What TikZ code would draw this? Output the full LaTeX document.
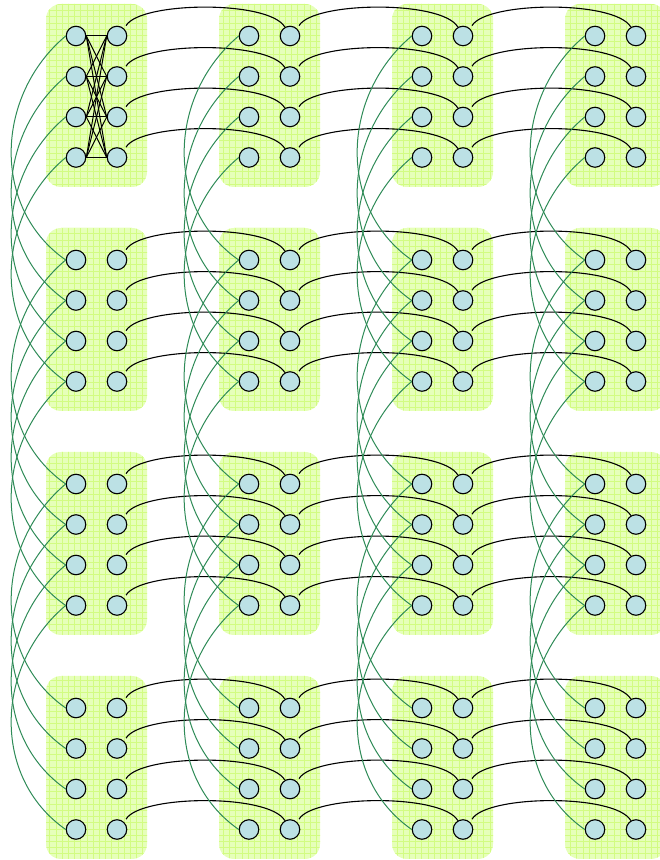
\documentclass[tikz,border=0pt]{standalone}
\definecolor{cellfill}{RGB}{230,255,186}
\definecolor{cellgrid}{RGB}{210,252,130}
\definecolor{qubitfill}{RGB}{188,225,229}
\definecolor{medgreen}{RGB}{46,139,87}
\tikzset{
	qubit/.style={circle, draw=black, fill=qubitfill, line width=1.1pt, minimum size=19.5pt, inner sep=0pt},
	cellbox/.style={rounded corners=15pt, fill=cellfill},
	cellgridline/.style={draw=cellgrid, line width=0.6pt},
	coupler/.style={draw=black, line width=1pt},
	hcoupler/.style={draw=black, line width=1.1pt, shorten <=3.5pt},
	vcoupler/.style={draw=medgreen, line width=1pt},
}

\begin{document}
\begin{tikzpicture}[x=1pt, y=1pt]
	\useasboundingbox (0,0) rectangle (660,860);
	\clip (0,0) rectangle (660,860);
	% unit cells
	\foreach \r in {0,...,3}{
		\foreach \c in {0,...,3}{
			\fill[cellbox] (46+173*\c, 673-224*\r) rectangle (147+173*\c, 856-224*\r);
			\begin{scope}
				\clip[rounded corners=15pt] (46+173*\c, 673-224*\r) rectangle (147+173*\c, 856-224*\r);
				\draw[cellgridline, step=6.2] (40+173*\c, 660-224*\r) grid (160+173*\c, 860-224*\r);
			\end{scope}
		}
	}
	% qubits
	\foreach \r in {0,...,3}{
		\foreach \c in {0,...,3}{
			\foreach \k in {0,...,3}{
				\node[qubit] (l-\r-\c-\k) at (76+173*\c, 824-224*\r-40.5*\k) {};
				\node[qubit] (r-\r-\c-\k) at (117+173*\c, 824-224*\r-40.5*\k) {};
			}
		}
	}
	% couplers inside the first cell
	\foreach \a in {0,...,3}{
		\foreach \b in {0,...,3}{
			\draw[coupler] (l-0-0-\a.east) -- (r-0-0-\b.west);
		}
	}
	% couplers between cells in a row
	\foreach \r in {0,...,3}{
		\foreach \c in {0,1,2}{
			\pgfmathtruncatemacro{\n}{\c+1}
			\foreach \k in {0,...,3}{
				\draw[hcoupler] (r-\r-\c-\k.north east) to[out=60, in=120, looseness=0.5] (r-\r-\n-\k);
			}
		}
	}
	% couplers between cells in a column
	\foreach \r in {0,1,2}{
		\pgfmathtruncatemacro{\n}{\r+1}
		\foreach \c in {0,...,3}{
			\foreach \k in {0,...,3}{
				\draw[vcoupler] (l-\r-\c-\k.west) to[out=220, in=145, looseness=1.05] (l-\n-\c-\k.west);
			}
		}
	}
\end{tikzpicture}
\end{document}
